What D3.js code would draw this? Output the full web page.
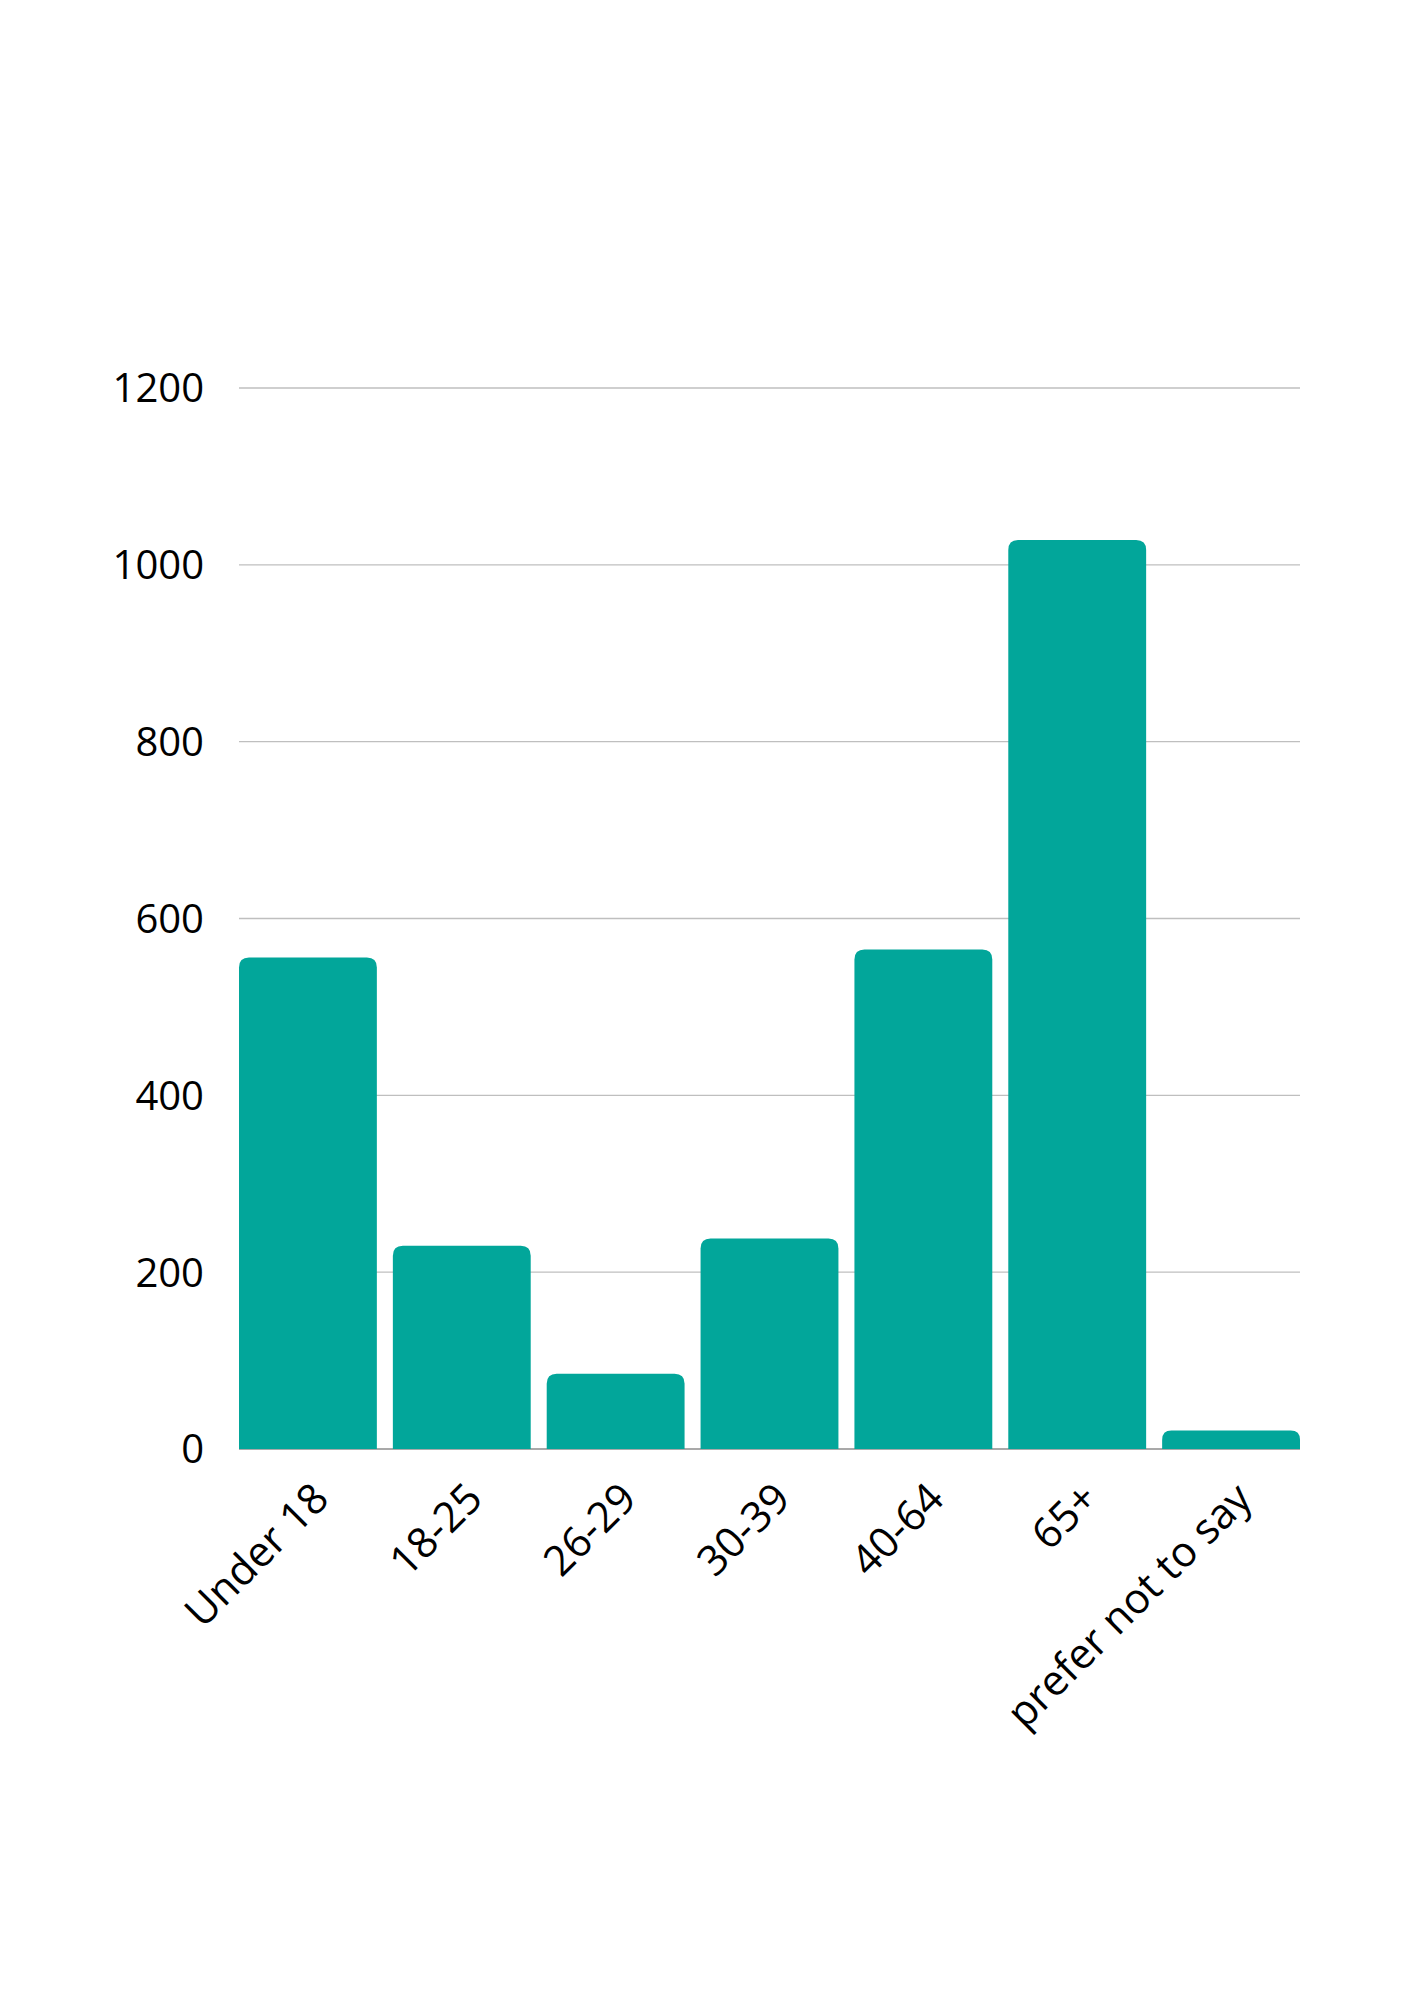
<!DOCTYPE html>
<html>
<head>
<meta charset="utf-8">
<script src="https://cdn.jsdelivr.net/npm/d3@7"></script>
<style>
  html, body { margin: 0; padding: 0; background: #fff; }
  svg text { font-family: "Open Sans", "Noto Sans", sans-serif; fill: #000; }
</style>
</head>
<body>
<div id="chart"></div>
<script>
// age groups and respondent counts
const categories = ["Under 18", "18-25", "26-29", "30-39", "40-64", "65+", "prefer not to say"];
const counts = [556, 230, 85, 238, 565, 1028, 21];
const yTicks = [0, 200, 400, 600, 800, 1000, 1200];

const width = 1414, height = 2000;
const margin = { top: 388, right: 114, bottom: 551, left: 239 };

const svg = d3.select("#chart").append("svg")
    .attr("width", width)
    .attr("height", height)
    .attr("viewBox", `0 0 ${width} ${height}`);

const x = d3.scaleBand()
    .domain(categories)
    .range([margin.left, width - margin.right])
    .paddingInner(0.104)
    .paddingOuter(0);

const y = d3.scaleLinear()
    .domain([0, 1200])
    .range([height - margin.bottom, margin.top]);

// gridlines
svg.append("g")
    .selectAll("line")
    .data(yTicks.slice(1))
    .join("line")
    .attr("x1", margin.left)
    .attr("x2", width - margin.right)
    .attr("y1", d => y(d))
    .attr("y2", d => y(d))
    .attr("stroke", "#bfbfbf")
    .attr("stroke-width", 1.3);

// y tick labels
svg.append("g")
    .selectAll("text")
    .data(yTicks)
    .join("text")
    .attr("x", margin.left - 35)
    .attr("y", d => y(d))
    .attr("dy", "0.36em")
    .attr("text-anchor", "end")
    .attr("font-size", "40px")
    .text(d => d);

// baseline
svg.append("line")
    .attr("x1", margin.left)
    .attr("x2", width - margin.right)
    .attr("y1", y(0))
    .attr("y2", y(0))
    .attr("stroke", "#8c8c8c")
    .attr("stroke-width", 1.5);

// bars with rounded top corners
const r = 10;
function barPath(d, i) {
    const x0 = x(categories[i]), w = x.bandwidth();
    const top = y(d), bottom = y(0);
    const rr = Math.min(r, (bottom - top) / 2, w / 2);
    return `M${x0},${bottom}` +
        `V${top + rr}` +
        `Q${x0},${top} ${x0 + rr},${top}` +
        `H${x0 + w - rr}` +
        `Q${x0 + w},${top} ${x0 + w},${top + rr}` +
        `V${bottom}Z`;
}

svg.append("g")
    .selectAll("path")
    .data(counts)
    .join("path")
    .attr("d", (d, i) => barPath(d, i))
    .attr("fill", "#02a69a");

// x labels, rotated
svg.append("g")
    .selectAll("text")
    .data(categories)
    .join("text")
    .attr("transform", d => `translate(${x(d) + x.bandwidth() / 2 + 23}, ${y(0) + 52}) rotate(-45)`)
    .attr("text-anchor", "end")
    .attr("font-size", "42px")
    .text(d => d);
</script>
</body>
</html>
